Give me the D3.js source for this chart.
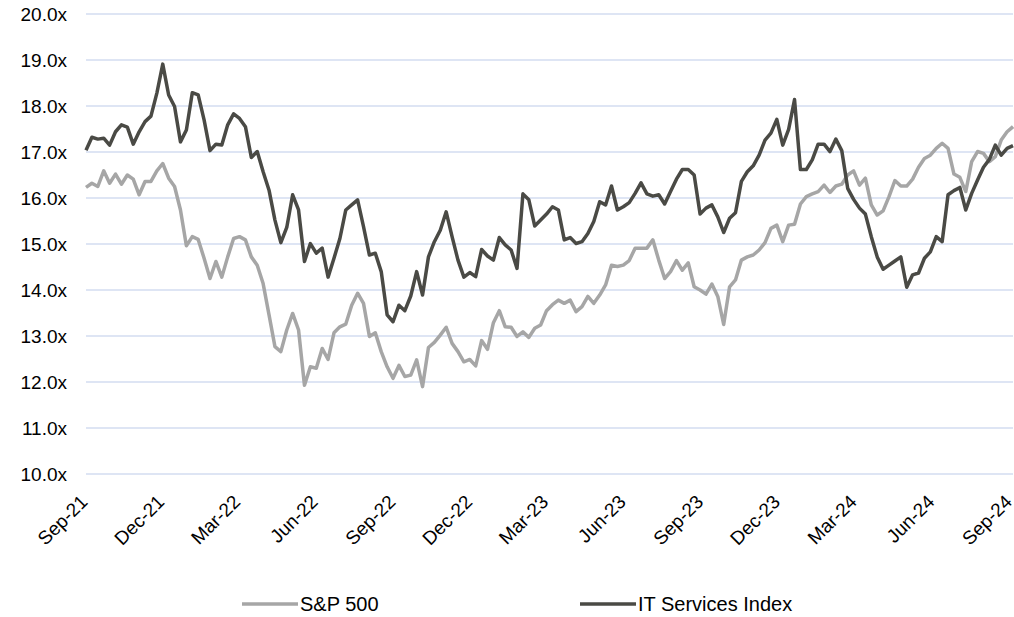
<!DOCTYPE html>
<html>
<head>
<meta charset="utf-8">
<script src="https://cdn.jsdelivr.net/npm/d3@7"></script>
<style>
  html, body { margin: 0; padding: 0; background: #fff; }
  svg { display: block; }
  text { font-family: "Liberation Sans", Arial, sans-serif; fill: #000; }
</style>
</head>
<body>
<svg id="chart" width="1014" height="617"></svg>
<script>
// Weekly forward P/E multiples, Sep-2021 to Sep-2024
const startDate = new Date(2021, 8, 3);
const sp500 = [
  16.23, 16.32, 16.25, 16.59, 16.32, 16.52, 16.30, 16.50, 16.41, 16.07,
  16.36, 16.36, 16.59, 16.75, 16.43, 16.25, 15.74, 14.96, 15.16, 15.10,
  14.69, 14.25, 14.62, 14.28, 14.72, 15.12, 15.16, 15.09, 14.72, 14.54,
  14.14, 13.46, 12.77, 12.66, 13.13, 13.49, 13.13, 11.93, 12.33, 12.30,
  12.73, 12.49, 13.07, 13.20, 13.26, 13.67, 13.93, 13.71, 12.99, 13.07,
  12.66, 12.33, 12.08, 12.36, 12.12, 12.15, 12.48, 11.90, 12.75, 12.86,
  13.02, 13.19, 12.84, 12.66, 12.44, 12.49, 12.35, 12.90, 12.71, 13.29,
  13.55, 13.20, 13.19, 12.99, 13.09, 12.97, 13.17, 13.24, 13.55, 13.68,
  13.78, 13.71, 13.78, 13.53, 13.64, 13.86, 13.71, 13.89, 14.11, 14.54,
  14.51, 14.54, 14.64, 14.91, 14.91, 14.91, 15.09, 14.65, 14.25, 14.40,
  14.64, 14.43, 14.59, 14.07, 14.00, 13.91, 14.13, 13.86, 13.25, 14.07,
  14.22, 14.65, 14.72, 14.76, 14.87, 15.03, 15.34, 15.41, 15.05, 15.41,
  15.43, 15.87, 16.03, 16.09, 16.14, 16.28, 16.12, 16.26, 16.30, 16.50,
  16.59, 16.28, 16.43, 15.85, 15.63, 15.72, 16.03, 16.38, 16.26, 16.26,
  16.41, 16.67, 16.86, 16.93, 17.08, 17.19, 17.08, 16.52, 16.45, 16.14,
  16.79, 17.01, 16.97, 16.79, 16.90, 17.26, 17.44, 17.55
];
const itServices = [
  17.04, 17.32, 17.28, 17.30, 17.15, 17.44, 17.59, 17.54, 17.17, 17.44,
  17.66, 17.78, 18.28, 18.91, 18.24, 17.99, 17.22, 17.48, 18.29, 18.24,
  17.70, 17.03, 17.17, 17.15, 17.59, 17.83, 17.73, 17.55, 16.88, 17.01,
  16.57, 16.17, 15.52, 15.03, 15.36, 16.07, 15.74, 14.62, 15.01, 14.80,
  14.91, 14.28, 14.69, 15.12, 15.74, 15.85, 15.96, 15.38, 14.76, 14.80,
  14.40, 13.46, 13.31, 13.67, 13.55, 13.87, 14.40, 13.89, 14.72, 15.05,
  15.30, 15.70, 15.16, 14.65, 14.28, 14.38, 14.29, 14.88, 14.74, 14.65,
  15.14, 14.98, 14.87, 14.47, 16.09, 15.96, 15.39, 15.52, 15.65, 15.81,
  15.74, 15.09, 15.14, 15.01, 15.05, 15.23, 15.49, 15.92, 15.85, 16.26,
  15.74, 15.81, 15.90, 16.10, 16.33, 16.09, 16.04, 16.07, 15.87, 16.14,
  16.41, 16.62, 16.62, 16.50, 15.65, 15.78, 15.85, 15.59, 15.25, 15.56,
  15.68, 16.36, 16.57, 16.70, 16.93, 17.26, 17.41, 17.71, 17.15, 17.49,
  18.14, 16.62, 16.62, 16.83, 17.17, 17.17, 17.01, 17.28, 17.03, 16.21,
  15.97, 15.78, 15.65, 15.16, 14.72, 14.45, 14.54, 14.63, 14.72, 14.06,
  14.33, 14.37, 14.69, 14.83, 15.16, 15.05, 16.07, 16.16, 16.23, 15.74,
  16.10, 16.39, 16.67, 16.84, 17.15, 16.93, 17.08, 17.14
];
const yTicks = [10, 11, 12, 13, 14, 15, 16, 17, 18, 19, 20];
const xTickLabels = ["Sep-21", "Dec-21", "Mar-22", "Jun-22", "Sep-22", "Dec-22",
  "Mar-23", "Jun-23", "Sep-23", "Dec-23", "Mar-24", "Jun-24", "Sep-24"];
const seriesNames = ["S&P 500", "IT Services Index"];
const seriesColors = ["#a6a6a6", "#4a4a45"];

const dates = sp500.map((_, i) => d3.timeWeek.offset(startDate, i));
const tickDates = xTickLabels.map(s => d3.timeParse("%b-%y")(s));

const svg = d3.select("#chart");
const plotLeft = 86, plotRight = 1013, plotTop = 14, plotBottom = 474;
const axisFont = "19px";

const x = d3.scaleTime()
  .domain([dates[0], dates[dates.length - 1]])
  .range([plotLeft, plotRight]);
const y = d3.scaleLinear().domain([10, 20]).range([plotBottom, plotTop]);

// horizontal gridlines
svg.append("g")
  .selectAll("line")
  .data(yTicks)
  .join("line")
  .attr("x1", plotLeft).attr("x2", plotRight)
  .attr("y1", d => y(d)).attr("y2", d => y(d))
  .attr("stroke", "#d3dcf1").attr("stroke-width", 1.3);

// y axis labels
const yAxis = d3.axisLeft(y).tickValues(yTicks)
  .tickFormat(d => d3.format(".1f")(d) + "x").tickSize(0).tickPadding(0);
svg.append("g")
  .attr("transform", `translate(${plotLeft - 19},0)`)
  .call(yAxis)
  .call(g => g.select(".domain").remove())
  .call(g => g.selectAll("text").style("font-size", axisFont)
    .attr("font-family", "Liberation Sans, Arial, sans-serif").attr("fill", "#000"));

// x axis labels, rotated
const xAxis = d3.axisBottom(x).tickValues(tickDates)
  .tickFormat((d, i) => xTickLabels[i]).tickSize(0).tickPadding(0);
svg.append("g")
  .attr("transform", `translate(0,${plotBottom})`)
  .call(xAxis)
  .call(g => g.select(".domain").remove())
  .call(g => g.selectAll("text")
    .style("font-size", axisFont)
    .attr("font-family", "Liberation Sans, Arial, sans-serif")
    .attr("fill", "#000")
    .attr("text-anchor", "end")
    .attr("dy", "0")
    .attr("transform", "translate(4,29) rotate(-45)"));

// series lines
const line = d3.line()
  .x((d, i) => x(dates[i]))
  .y(d => y(d));

[sp500, itServices].forEach((vals, k) => {
  svg.append("path")
    .datum(vals)
    .attr("fill", "none")
    .attr("stroke", seriesColors[k])
    .attr("stroke-width", 3.5)
    .attr("stroke-linejoin", "round")
    .attr("d", line);
});

// legend
const legendX = [242, 580];
const legendY = 604;
const legend = svg.append("g");
seriesNames.forEach((name, k) => {
  legend.append("line")
    .attr("x1", legendX[k]).attr("x2", legendX[k] + 56)
    .attr("y1", legendY).attr("y2", legendY)
    .attr("stroke", seriesColors[k]).attr("stroke-width", 3.5);
  legend.append("text")
    .attr("x", legendX[k] + 58).attr("y", legendY)
    .attr("dy", "0.35em")
    .style("font-size", "20px")
    .text(name);
});
</script>
</body>
</html>
